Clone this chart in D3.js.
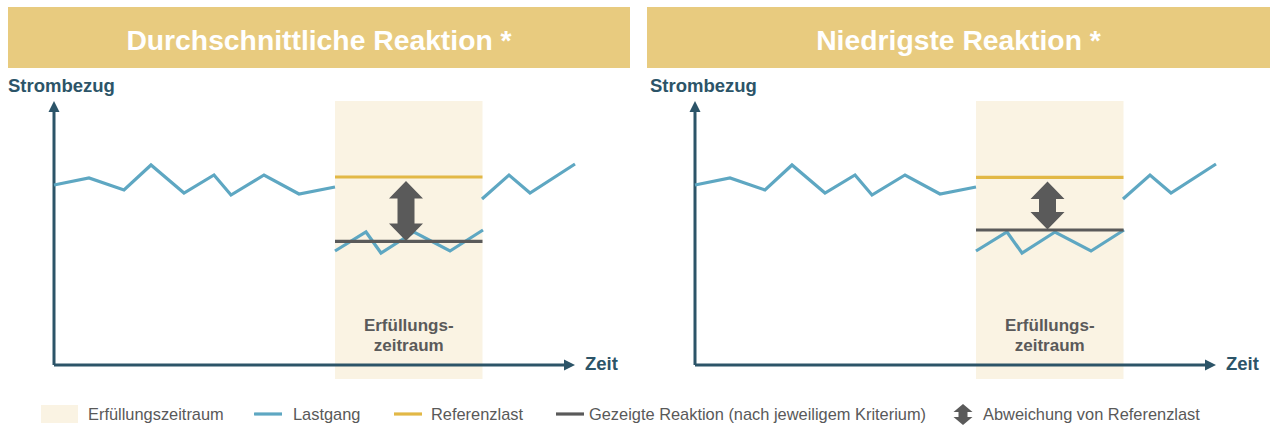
<!DOCTYPE html>
<html>
<head>
<meta charset="utf-8">
<script src="https://cdn.jsdelivr.net/npm/d3@7"></script>
<style>
  html, body { margin: 0; padding: 0; background: #ffffff; }
  svg { display: block; font-family: "Liberation Sans", Arial, sans-serif; }
</style>
</head>
<body>
<svg id="chart" width="1270" height="425"></svg>
<script>
// ---------- data ----------
const panelTitles = ["Durchschnittliche Reaktion *", "Niedrigste Reaktion *"];
const axisLabels = ["Strombezug", "Zeit"];
const periodLabel = ["Erfüllungs-", "zeitraum"];
// time / load pairs (abstract units)
const lastgangBefore = [[0, 90], [35, 93.5], [70, 87.5], [97, 100], [130, 86], [160, 95], [177, 85], [210, 95], [245, 85.5], [281, 89]];
const lastgangDuring = [[281, 57], [312, 66.5], [327, 56], [360, 66.5], [396, 57], [429, 67.5]];
const lastgangAfter = [[428, 83], [455, 95], [476, 86], [521, 100.5]];
const period = [281, 428.5];
const referenzlast = [94, 93.8];
const reaktion = [61.8, 67.5];
const deviationTime = [352, 352.5];
const legendLabels = ["Erfüllungszeitraum", "Lastgang", "Referenzlast", "Gezeigte Reaktion (nach jeweiligem Kriterium)", "Abweichung von Referenzlast"];

// ---------- style ----------
const C = {
  header: "#e8cb7f",
  band: "#faf3e3",
  blue: "#5ea7c2",
  gold: "#e2b846",
  gray: "#5a5a5a",
  axis: "#2c5468",
  legendText: "#595959"
};

const svg = d3.select("#chart");

const panels = [
  { title: panelTitles[0], hx: 8, hw: 622, x0: 54, labelX: 8, ref: referenzlast[0], react: reaktion[0], dev: deviationTime[0] },
  { title: panelTitles[1], hx: 647, hw: 623, x0: 695, labelX: 650, ref: referenzlast[1], react: reaktion[1], dev: deviationTime[1] }
];

const tMax = 521;
const y = d3.scaleLinear().domain([0, 132]).range([365, 101]);

panels.forEach(p => {
  const g = svg.append("g");
  const x = d3.scaleLinear().domain([0, tMax]).range([p.x0, p.x0 + tMax]);

  // header
  g.append("rect").attr("x", p.hx).attr("y", 7).attr("width", p.hw).attr("height", 61).attr("fill", C.header);
  g.append("text").attr("x", p.hx + p.hw / 2).attr("y", 49.5)
    .attr("text-anchor", "middle").attr("fill", "#ffffff")
    .attr("font-size", 28.3).attr("font-weight", "bold").text(p.title);

  // period band
  g.append("rect")
    .attr("x", x(period[0])).attr("width", x(period[1]) - x(period[0]))
    .attr("y", y(132)).attr("height", y(-7) - y(132))
    .attr("fill", C.band);

  // period label
  const mid = (x(period[0]) + x(period[1])) / 2;
  periodLabel.forEach((t, i) => {
    g.append("text").attr("x", mid).attr("y", 331 + i * 20)
      .attr("text-anchor", "middle").attr("fill", C.gray)
      .attr("font-size", 17).attr("font-weight", "bold").text(t);
  });

  // axes
  const ox = x(0), oy = y(0);
  const yTip = y(132), xTip = x(tMax);
  g.append("path")
    .attr("d", `M${ox},${oy}L${ox},${yTip + 9}M${ox},${oy}L${xTip - 9},${oy}`)
    .attr("stroke", C.axis).attr("stroke-width", 3).attr("fill", "none");
  g.append("path")
    .attr("d", `M${ox},${yTip}L${ox - 5.5},${yTip + 11}L${ox + 5.5},${yTip + 11}Z`)
    .attr("fill", C.axis);
  g.append("path")
    .attr("d", `M${xTip},${oy}L${xTip - 11},${oy - 5.5}L${xTip - 11},${oy + 5.5}Z`)
    .attr("fill", C.axis);

  g.append("text").attr("x", p.labelX).attr("y", 92)
    .attr("fill", C.axis).attr("font-size", 18.5).attr("font-weight", "bold").text(axisLabels[0]);
  g.append("text").attr("x", xTip + 10).attr("y", 370)
    .attr("fill", C.axis).attr("font-size", 18.5).attr("font-weight", "bold").text(axisLabels[1]);

  // lastgang
  const line = d3.line().x(d => x(d[0])).y(d => y(d[1]));
  [lastgangBefore, lastgangDuring, lastgangAfter].forEach(seg => {
    g.append("path").attr("d", line(seg))
      .attr("fill", "none").attr("stroke", C.blue).attr("stroke-width", 3.2)
      .attr("stroke-linejoin", "miter");
  });

  // referenzlast
  g.append("line")
    .attr("x1", x(period[0])).attr("x2", x(period[1]))
    .attr("y1", y(p.ref)).attr("y2", y(p.ref))
    .attr("stroke", C.gold).attr("stroke-width", 3.2);

  // gezeigte reaktion
  g.append("line")
    .attr("x1", x(period[0])).attr("x2", x(period[1]))
    .attr("y1", y(p.react)).attr("y2", y(p.react))
    .attr("stroke", C.gray).attr("stroke-width", 3.2);

  // deviation arrow
  const cx = x(p.dev);
  const top = y(p.ref) + 4, bot = y(p.react) - 0.5;
  const hw = 17, sw = 8.5, hh = 17.5;
  g.append("path")
    .attr("d", `M${cx},${top}L${cx + hw},${top + hh}L${cx + sw},${top + hh}L${cx + sw},${bot - hh}L${cx + hw},${bot - hh}L${cx},${bot}L${cx - hw},${bot - hh}L${cx - sw},${bot - hh}L${cx - sw},${top + hh}L${cx - hw},${top + hh}Z`)
    .attr("fill", C.gray);
});

// ---------- legend ----------
const lg = svg.append("g");
const ly = 414;
lg.append("rect").attr("x", 41).attr("y", 405).attr("width", 37).attr("height", 18).attr("fill", C.band);
const legendItems = [
  { type: "rect", tx: 88 },
  { type: "line", color: C.blue, lx: 254, tx: 293 },
  { type: "line", color: C.gold, lx: 394, tx: 431 },
  { type: "line", color: C.gray, lx: 556, tx: 589 },
  { type: "arrow", lx: 963, tx: 983 }
];
legendItems.forEach((it, i) => {
  if (it.type === "line") {
    lg.append("line").attr("x1", it.lx).attr("x2", it.lx + 28).attr("y1", ly).attr("y2", ly)
      .attr("stroke", it.color).attr("stroke-width", 3.2);
  } else if (it.type === "arrow") {
    const cx = it.lx, t = 404, b = 425, hw = 9.5, sw = 4.5, hh = 8;
    lg.append("path")
      .attr("d", `M${cx},${t}L${cx + hw},${t + hh}L${cx + sw},${t + hh}L${cx + sw},${b - hh}L${cx + hw},${b - hh}L${cx},${b}L${cx - hw},${b - hh}L${cx - sw},${b - hh}L${cx - sw},${t + hh}L${cx - hw},${t + hh}Z`)
      .attr("fill", C.gray);
  }
  lg.append("text").attr("x", it.tx).attr("y", ly + 6)
    .attr("fill", C.legendText).attr("font-size", 16.4).text(legendLabels[i]);
});
</script>
</body>
</html>
